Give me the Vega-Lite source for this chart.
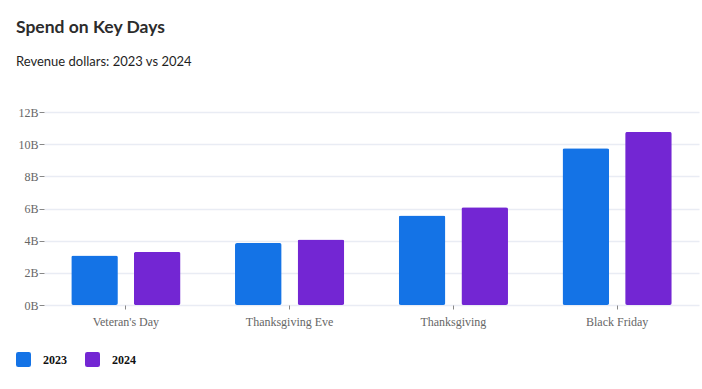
{
  "$schema": "https://vega.github.io/schema/vega-lite/v6.json",
  "autosize": "none",
  "width": 655,
  "height": 193,
  "padding": {"left": 44, "top": 112, "right": 3, "bottom": 84},
  "background": "white",
  "title": {
    "text": "Spend on Key Days",
    "subtitle": "Revenue dollars: 2023 vs 2024",
    "anchor": "start",
    "frame": "group",
    "dx": -28,
    "offset": 37,
    "font": "Lato",
    "fontSize": 17.5,
    "fontWeight": "bold",
    "color": "#2c2c2c",
    "subtitleFont": "Lato",
    "subtitleFontSize": 13,
    "subtitleColor": "#1f1f1f",
    "subtitlePadding": 20
  },
  "data": {
    "values": [
      {"day": "Veteran's Day", "year": "2023", "revenue": 3.07},
      {"day": "Veteran's Day", "year": "2024", "revenue": 3.3},
      {"day": "Thanksgiving Eve", "year": "2023", "revenue": 3.85},
      {"day": "Thanksgiving Eve", "year": "2024", "revenue": 4.07},
      {"day": "Thanksgiving", "year": "2023", "revenue": 5.57},
      {"day": "Thanksgiving", "year": "2024", "revenue": 6.07},
      {"day": "Black Friday", "year": "2023", "revenue": 9.75},
      {"day": "Black Friday", "year": "2024", "revenue": 10.76}
    ]
  },
  "mark": {"type": "bar", "cornerRadius": 2},
  "encoding": {
    "x": {
      "field": "day",
      "type": "nominal",
      "sort": null,
      "title": null,
      "scale": {"paddingInner": 0.333, "paddingOuter": 0.1665},
      "axis": {
        "labelAngle": 0,
        "labelFont": "Liberation Serif",
        "labelFontSize": 12,
        "labelColor": "#666666",
        "tickColor": "#888888",
        "tickSize": 4,
        "labelPadding": 7,
        "domain": false,
        "grid": false
      }
    },
    "xOffset": {
      "field": "year",
      "type": "nominal",
      "scale": {"paddingInner": 0.256, "paddingOuter": 0}
    },
    "y": {
      "field": "revenue",
      "type": "quantitative",
      "title": null,
      "scale": {"domain": [0, 12], "nice": false},
      "axis": {
        "values": [0, 2, 4, 6, 8, 10, 12],
        "labelExpr": "datum.value + 'B'",
        "labelFont": "Liberation Serif",
        "labelFontSize": 12,
        "labelColor": "#666666",
        "tickColor": "#888888",
        "tickSize": 5,
        "labelPadding": 1,
        "domain": false,
        "gridColor": "#e9ecf4",
        "gridWidth": 1.5
      }
    },
    "color": {
      "field": "year",
      "type": "nominal",
      "title": null,
      "scale": {"domain": ["2023", "2024"], "range": ["#1473E6", "#7326D3"]},
      "legend": {
        "orient": "none",
        "legendX": -28,
        "legendY": 240,
        "direction": "horizontal",
        "symbolType": "M-0.7,-1H0.7Q1,-1 1,-0.7V0.7Q1,1 0.7,1H-0.7Q-1,1 -1,0.7V-0.7Q-1,-1 -0.7,-1Z",
        "symbolSize": 225,
        "symbolStrokeWidth": 0,
        "symbolOpacity": 1,
        "labelFont": "Liberation Serif",
        "labelFontSize": 12,
        "labelFontWeight": "bold",
        "labelColor": "#111111",
        "labelOffset": 12,
        "columnPadding": 18
      }
    }
  },
  "config": {
    "view": {"stroke": null}
  }
}
